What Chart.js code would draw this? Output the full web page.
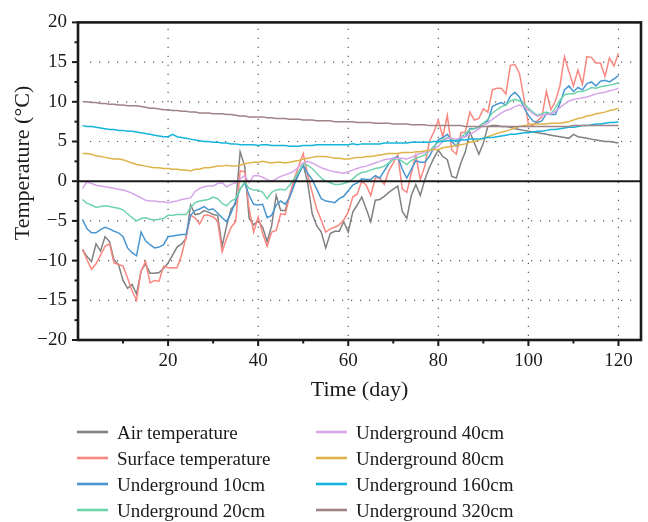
<!DOCTYPE html>
<html>
<head>
<meta charset="utf-8">
<title>Soil temperature profile</title>
<script src="https://cdn.jsdelivr.net/npm/chart.js@4"></script>
<style>
  html, body { margin: 0; background: #fff; }
  #wrap { width: 648px; height: 522px; }
</style>
</head>
<body>
<div id="wrap"><canvas id="canvas" width="648" height="522"></canvas></div>
<script>
// day of record, 1..120
const days = Array.from({ length: 120 }, (_, i) => i + 1);

const airTemp = [
  -8.6, -9.5, -10.1, -7.9, -8.8, -7.0, -7.6, -9.9, -10.5, -12.5,
  -13.5, -13.0, -14.2, -11.3, -10.4, -11.6, -11.6, -11.5, -11.0, -10.3,
  -9.3, -8.3, -7.9, -7.2, -3.0, -4.2, -4.1, -3.7, -3.9, -4.2,
  -4.3, -8.2, -5.6, -3.5, -2.9, 3.7, 1.9, -4.7, -5.5, -5.0,
  -5.8, -7.6, -5.6, -1.8, -3.7, -3.7, -1.8, -0.2, 1.0, 2.1,
  -0.2, -4.1, -5.6, -6.4, -8.4, -6.6, -6.3, -6.3, -5.1, -6.4,
  -3.9, -3.0, -2.0, -3.5, -5.1, -2.4, -2.3, -1.9, -1.4, -1.0,
  -0.6, -3.8, -4.7, -1.8, -0.4, -1.8, 0.2, 1.7, 2.9, 3.9,
  3.1, 2.7, 0.6, 0.4, 2.3, 3.7, 6.2, 4.8, 3.4, 4.8,
  6.9, 7.0, 7.0, 6.9, 6.9, 6.8, 6.6, 6.5, 6.4, 6.3,
  6.2, 6.1, 6.0, 5.9, 5.8, 5.7, 5.6, 5.5, 5.4, 5.9,
  5.6, 5.5, 5.4, 5.3, 5.2, 5.1, 5.0, 5.0, 4.9, 4.8
];

const surfaceTemp = [
  -8.6, -9.9, -11.1, -10.4, -9.3, -8.2, -7.9, -10.3, -10.5, -10.7,
  -12.2, -13.8, -15.0, -11.3, -10.1, -12.8, -12.5, -12.6, -10.7, -10.9,
  -10.9, -10.9, -9.3, -7.0, -4.3, -4.6, -5.4, -4.3, -4.3, -4.5,
  -5.0, -8.9, -7.2, -5.8, -5.1, 1.3, 1.2, -3.5, -6.4, -4.5,
  -6.6, -8.2, -6.4, -6.2, -4.1, -4.2, -1.8, 0.3, 1.9, 3.5,
  0.8, -1.4, -3.5, -4.9, -6.4, -6.0, -5.8, -5.5, -4.9, -3.9,
  -2.0, -1.6, 0.0, -0.5, -1.8, 0.4, 0.4, -0.4, 1.3, 2.3,
  3.3, -1.0, -1.4, 1.0, 3.3, 0.2, 1.9, 5.0, 6.2, 7.7,
  5.6, 8.3, 3.9, 3.4, 6.1, 6.2, 8.7, 7.7, 7.9, 9.1,
  8.7, 11.5, 11.7, 11.7, 11.0, 14.6, 14.7, 13.6, 10.5, 7.2,
  7.0, 7.6, 8.1, 11.3, 9.0, 10.1, 12.0, 15.7, 13.8, 12.0,
  14.0, 12.2, 15.7, 15.6, 14.9, 14.9, 13.2, 15.5, 14.5, 16.1
];

const depth10 = [
  -4.8, -6.0, -6.5, -6.5, -6.1, -5.8, -6.0, -6.3, -6.5, -7.0,
  -8.4, -9.0, -9.4, -6.4, -7.5, -8.0, -8.4, -8.3, -8.0, -7.0,
  -6.9, -6.8, -6.7, -6.7, -4.3, -3.7, -3.5, -3.2, -3.6, -3.5,
  -4.0, -4.6, -5.1, -4.0, -2.5, -1.0, -0.2, -1.8, -2.9, -3.0,
  -2.9, -4.6, -4.3, -3.0, -2.5, -2.9, -2.0, -0.5, 0.9, 2.0,
  1.0, 0.2, -1.0, -2.2, -2.5, -2.6, -2.7, -2.2, -1.9, -1.2,
  -0.5, -0.2, 0.3, 0.2, 0.2, 0.7, 0.4, 1.3, 2.2, 2.9,
  3.1, 1.5, 0.4, 1.5, 2.6, 2.4, 2.4, 3.1, 4.2, 5.2,
  5.5, 5.9, 5.0, 4.4, 5.4, 5.6, 6.6, 6.6, 6.8, 7.3,
  7.6, 9.4, 9.7, 9.9, 9.6, 10.7, 11.2, 10.6, 9.3, 8.3,
  7.6, 7.4, 7.6, 8.5, 8.4, 8.4, 9.8, 11.5, 12.0, 11.3,
  11.8, 11.5, 12.3, 12.5, 12.0, 12.6, 12.7, 12.5, 12.9, 13.3
];

const depth20 = [
  -2.3, -2.8, -3.0, -3.3, -3.2, -3.1, -3.2, -3.3, -3.4, -3.6,
  -4.1, -4.6, -5.0, -4.7, -4.6, -4.8, -4.9, -4.8, -4.7, -4.3,
  -4.3, -4.2, -4.2, -4.2, -3.3, -2.7, -2.5, -2.4, -2.3, -2.0,
  -2.2, -2.8, -3.1, -2.5, -2.2, -1.0, -0.1, -0.9, -1.1, -1.1,
  -1.4, -2.2, -1.4, -1.1, -1.0, -1.1, -0.5, 0.3, 1.2, 2.2,
  2.0, 1.6, 1.0, 0.4, 0.0, -0.2, -0.4, -0.4, -0.3, -0.1,
  0.3, 0.8, 1.1, 1.2, 1.4, 1.6, 1.7, 1.9, 2.3, 2.7,
  2.9, 2.5, 2.1, 2.6, 2.9, 3.1, 3.3, 3.8, 4.4, 4.9,
  5.2, 5.5, 5.3, 4.9, 5.6, 6.0, 6.5, 6.6, 6.9, 7.3,
  7.8, 8.6, 9.0, 9.4, 9.6, 10.1, 10.3, 10.1, 9.8, 9.2,
  8.7, 8.3, 8.5, 8.7, 8.5, 9.2, 10.2, 10.9, 11.0, 11.0,
  11.3, 11.3, 11.5, 11.8, 11.7, 11.9, 12.0, 12.1, 12.2, 12.4
];

const depth40 = [
  -0.9, -0.1, -0.3, -0.5, -0.6, -0.7, -0.8, -0.9, -1.0, -1.1,
  -1.3, -1.5, -1.8, -2.1, -2.4, -2.5, -2.5, -2.6, -2.6, -2.7,
  -2.6, -2.5, -2.3, -2.2, -2.1, -1.3, -0.9, -0.7, -0.6, -0.6,
  -0.3, -0.2, -0.7, -0.4, -0.2, 0.3, 0.7, -0.2, 0.7, 0.7,
  0.5, 0.2, 0.0, 0.3, 0.6, 0.8, 1.0, 1.3, 1.8, 2.3,
  2.5, 2.3, 2.0, 1.7, 1.5, 1.3, 1.2, 1.1, 1.0, 1.2,
  1.4, 1.6, 1.8, 1.9, 2.1, 2.3, 2.5, 2.7, 2.8, 2.9,
  2.9, 2.9, 2.8, 3.0, 3.3, 3.5, 3.6, 3.8, 4.1, 4.4,
  5.0, 5.4, 5.4, 5.3, 5.5, 5.6, 5.9, 6.2, 6.6, 7.0,
  7.3, 7.8, 8.2, 8.6, 8.9, 9.1, 9.4, 9.6, 9.4, 9.0,
  8.5, 8.2, 8.3, 8.4, 8.5, 8.8, 9.3, 9.7, 10.1, 10.3,
  10.4, 10.5, 10.6, 10.8, 11.0, 11.1, 11.2, 11.4, 11.5, 11.7
];

const depth80 = [
  3.5, 3.5, 3.4, 3.2, 3.1, 3.0, 2.9, 2.8, 2.8, 2.7,
  2.5, 2.3, 2.1, 2.0, 1.9, 1.8, 1.7, 1.7, 1.6, 1.6,
  1.5, 1.5, 1.4, 1.4, 1.3, 1.5, 1.5, 1.7, 1.7, 1.8,
  1.9, 1.9, 2.0, 1.9, 1.9, 2.0, 2.2, 2.3, 2.4, 2.4,
  2.5, 2.4, 2.3, 2.4, 2.4, 2.3, 2.4, 2.5, 2.6, 2.8,
  2.9, 3.0, 3.1, 3.1, 3.1, 3.0, 2.9, 2.9, 2.8, 2.8,
  2.9, 3.0, 3.0, 3.1, 3.1, 3.2, 3.3, 3.4, 3.5, 3.5,
  3.5, 3.6, 3.6, 3.6, 3.7, 3.7, 3.8, 3.9, 4.0, 4.0,
  4.2, 4.3, 4.4, 4.5, 4.6, 4.7, 4.9, 5.0, 5.2, 5.4,
  5.6, 5.8, 6.0, 6.2, 6.3, 6.5, 6.7, 6.9, 7.0, 7.1,
  7.2, 7.2, 7.2, 7.2, 7.3, 7.3, 7.3, 7.4, 7.5, 7.7,
  7.9, 8.0, 8.2, 8.3, 8.5, 8.6, 8.7, 8.9, 9.0, 9.2
];

const depth160 = [
  7.0, 6.9, 6.9, 6.8, 6.7, 6.6, 6.5, 6.5, 6.4, 6.4,
  6.3, 6.3, 6.2, 6.1, 6.0, 5.9, 5.8, 5.7, 5.6, 5.6,
  5.9, 5.6, 5.5, 5.4, 5.3, 5.2, 5.1, 5.0, 5.0, 4.9,
  4.9, 4.8, 4.8, 4.7, 4.7, 4.6, 4.6, 4.6, 4.6, 4.5,
  4.6, 4.6, 4.5, 4.5, 4.5, 4.5, 4.4, 4.4, 4.4, 4.5,
  4.5, 4.5, 4.6, 4.6, 4.6, 4.6, 4.6, 4.6, 4.6, 4.6,
  4.7, 4.6, 4.7, 4.7, 4.7, 4.7, 4.7, 4.8, 4.8, 4.8,
  4.8, 4.8, 4.8, 4.9, 4.9, 4.9, 4.9, 4.9, 5.0, 5.0,
  5.0, 5.1, 5.1, 5.1, 5.2, 5.2, 5.3, 5.3, 5.3, 5.4,
  5.5, 5.5, 5.6, 5.7, 5.8, 5.9, 5.9, 6.0, 6.1, 6.1,
  6.2, 6.3, 6.3, 6.4, 6.5, 6.5, 6.6, 6.7, 6.8, 6.8,
  6.9, 7.0, 7.0, 7.1, 7.2, 7.2, 7.3, 7.4, 7.4, 7.5
];

const depth320 = [
  10.0, 10.0, 9.9, 9.9, 9.8, 9.8, 9.7, 9.7, 9.6, 9.6,
  9.5, 9.5, 9.5, 9.4, 9.3, 9.2, 9.2, 9.1, 9.0, 9.0,
  8.9, 8.9, 8.8, 8.8, 8.7, 8.7, 8.6, 8.6, 8.6, 8.5,
  8.5, 8.5, 8.4, 8.4, 8.3, 8.2, 8.2, 8.1, 8.1, 8.1,
  8.1, 8.0, 8.0, 7.9, 7.9, 7.9, 7.8, 7.8, 7.8, 7.7,
  7.7, 7.7, 7.6, 7.6, 7.6, 7.6, 7.5, 7.5, 7.5, 7.5,
  7.5, 7.4, 7.4, 7.4, 7.4, 7.3, 7.3, 7.3, 7.3, 7.2,
  7.2, 7.2, 7.2, 7.1, 7.1, 7.1, 7.1, 7.0, 7.0, 7.0,
  7.0, 7.0, 7.0, 7.0, 7.0, 6.9, 6.9, 6.9, 6.9, 6.9,
  6.9, 6.9, 6.9, 6.9, 6.9, 6.9, 6.9, 6.9, 6.9, 6.9,
  6.9, 6.9, 6.9, 6.9, 6.9, 6.9, 6.9, 6.9, 6.9, 7.0,
  7.0, 7.0, 7.0, 7.0, 7.0, 7.0, 7.0, 7.0, 7.0, 7.0
];

// axis ticks and dotted grid positions
const xMajor = [20, 40, 60, 80, 100, 120];
const xMinor = [10, 30, 50, 70, 90, 110];
const yMajor = [-20, -15, -10, -5, 0, 5, 10, 15, 20];
const yMinor = [-17.5, -12.5, -7.5, -2.5, 2.5, 7.5, 12.5, 17.5];
const yGrid = [-15, -10, -5, 5, 10, 15];

const series = [
  { label: 'Air temperature', values: airTemp, color: '#818181' },
  { label: 'Surface temperature', values: surfaceTemp, color: '#f8877f' },
  { label: 'Underground 10cm', values: depth10, color: '#4a96d0' },
  { label: 'Underground 20cm', values: depth20, color: '#6fd3ab' },
  { label: 'Underground 40cm', values: depth40, color: '#d7a6e8' },
  { label: 'Underground 80cm', values: depth80, color: '#dfb24a' },
  { label: 'Underground 160cm', values: depth160, color: '#14b4dc' },
  { label: 'Underground 320cm', values: depth320, color: '#a08385' }
];

const FONT = "'Liberation Serif', 'Times New Roman', serif";
const INK = '#1a1a1a';

function seg(ctx, x1, y1, x2, y2) {
  ctx.beginPath();
  ctx.moveTo(x1, y1);
  ctx.lineTo(x2, y2);
  ctx.stroke();
}

// grid, frame, tick marks, y title and the two-column legend
const plotFrame = {
  id: 'plotFrame',
  beforeDatasetsDraw(chart) {
    const { ctx, chartArea: a, scales: { x, y } } = chart;
    ctx.save();
    ctx.strokeStyle = '#5a5a5a';
    ctx.lineWidth = 1.2;
    ctx.setLineDash([1.2, 7.8]);
    xMajor.forEach(v => {
      const px = x.getPixelForValue(v);
      seg(ctx, px, a.bottom - 4, px, a.top + 4);
    });
    yGrid.forEach(v => {
      const py = y.getPixelForValue(v);
      seg(ctx, a.left + 12, py, a.right - 4, py);
    });
    ctx.restore();
  },
  afterDatasetsDraw(chart) {
    const { ctx, chartArea: a, scales: { x, y } } = chart;
    ctx.save();
    ctx.strokeStyle = INK;
    ctx.lineWidth = 2;
    const y0 = y.getPixelForValue(0);
    seg(ctx, a.left, y0, a.right, y0);

    xMajor.forEach(v => { const px = x.getPixelForValue(v); seg(ctx, px, a.bottom, px, a.bottom + 6); });
    xMinor.forEach(v => { const px = x.getPixelForValue(v); seg(ctx, px, a.bottom, px, a.bottom + 3.5); });
    yMajor.forEach(v => { const py = y.getPixelForValue(v); seg(ctx, a.left, py, a.left - 6, py); });
    yMinor.forEach(v => { const py = y.getPixelForValue(v); seg(ctx, a.left, py, a.left - 3.5, py); });

    ctx.lineWidth = 2.6;
    ctx.strokeRect(a.left, a.top, a.right - a.left, a.bottom - a.top);
    ctx.restore();
  },
  afterDraw(chart) {
    const { ctx } = chart;
    ctx.save();
    ctx.fillStyle = INK;
    ctx.font = '22px ' + FONT;
    ctx.translate(29, 163);
    ctx.rotate(-Math.PI / 2);
    ctx.textAlign = 'center';
    ctx.textBaseline = 'alphabetic';
    ctx.fillText('Temperature (\u00b0C)', 0, 0);
    ctx.restore();

    const cols = [77, 316];
    const rows = [432, 458, 484, 510];
    ctx.save();
    ctx.font = '19px ' + FONT;
    ctx.textAlign = 'left';
    ctx.textBaseline = 'alphabetic';
    series.forEach((s, i) => {
      const cx = cols[Math.floor(i / 4)];
      const cy = rows[i % 4];
      ctx.strokeStyle = s.color;
      ctx.lineWidth = 2.6;
      seg(ctx, cx, cy, cx + 31, cy);
      ctx.fillStyle = INK;
      ctx.fillText(s.label, cx + 40, cy + 6.5);
    });
    ctx.restore();
  }
};

new Chart(document.getElementById('canvas'), {
  type: 'line',
  data: {
    datasets: series.map((s, i) => ({
      label: s.label,
      data: s.values.map((v, k) => ({ x: days[k], y: v })),
      borderColor: s.color,
      backgroundColor: s.color,
      borderWidth: 1.5,
      pointRadius: 0,
      tension: 0,
      order: series.length - i
    }))
  },
  options: {
    responsive: false,
    animation: false,
    devicePixelRatio: 1,
    layout: { padding: { top: 17, right: 7, bottom: 112, left: 0 } },
    plugins: {
      legend: { display: false },
      tooltip: { enabled: false }
    },
    scales: {
      x: {
        type: 'linear',
        min: 0,
        max: 125,
        grid: { display: false, drawTicks: false },
        border: { display: false },
        ticks: {
          stepSize: 10,
          includeBounds: false,
          autoSkip: false,
          maxRotation: 0,
          padding: 10,
          color: INK,
          font: { family: FONT, size: 19 },
          callback: v => (v > 0 && v % 20 === 0 ? String(v) : '')
        },
        title: {
          display: true,
          text: 'Time (day)',
          color: INK,
          font: { family: FONT, size: 22 },
          padding: { top: 0, bottom: 7 }
        },
        afterFit: s => { s.height = 70; }
      },
      y: {
        min: -20,
        max: 20,
        grid: { display: false, drawTicks: false },
        border: { display: false },
        ticks: {
          stepSize: 5,
          padding: 11,
          color: INK,
          font: { family: FONT, size: 19 },
          callback: v => (v < 0 ? '\u2212' + Math.abs(v) : String(v))
        },
        afterFit: s => { s.width = 78; }
      }
    }
  },
  plugins: [plotFrame]
});
</script>
</body>
</html>
